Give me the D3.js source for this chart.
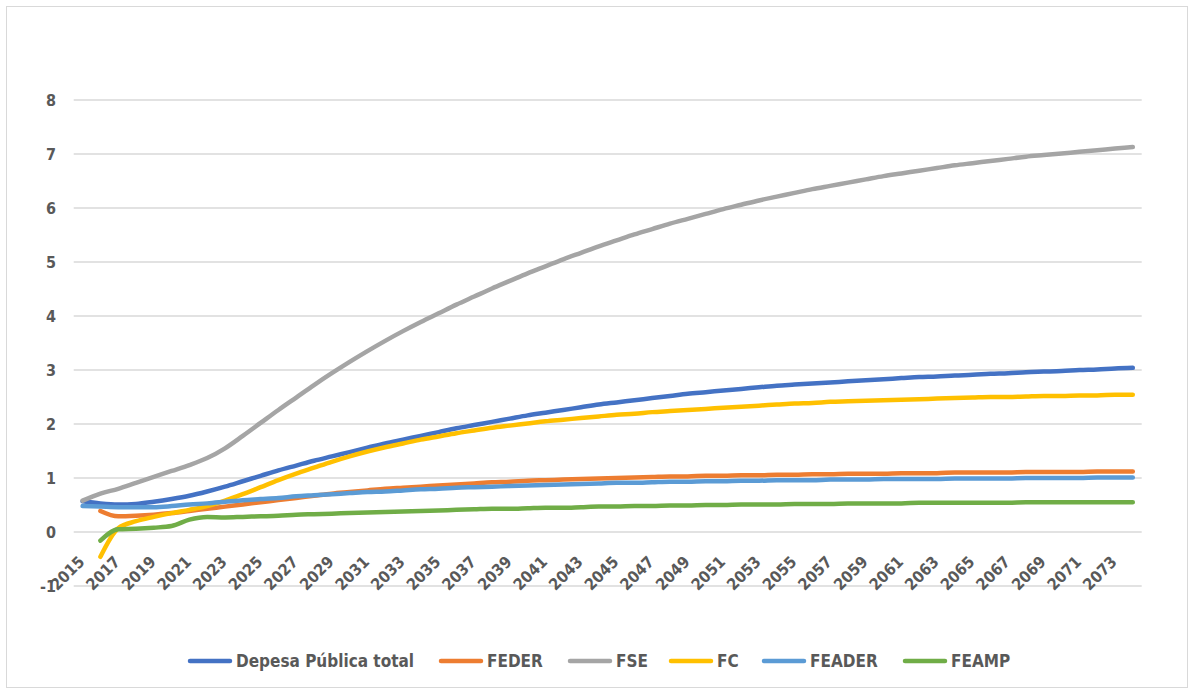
<!DOCTYPE html>
<html>
<head>
<meta charset="utf-8">
<script src="https://cdn.jsdelivr.net/npm/d3@7"></script>
<style>
  body { margin: 0; background: #fff; }
  svg text { font-family: "Liberation Sans Narrow", "DejaVu Sans Condensed", "Liberation Sans", sans-serif; font-weight: bold; fill: #595959; }
</style>
</head>
<body>
<svg id="chart" width="1190" height="691"></svg>
<script>
const years = d3.range(2015, 2075);
const yTicks = [-1, 0, 1, 2, 3, 4, 5, 6, 7, 8];
const xTickYears = years.filter((d, i) => i % 2 === 0);

// values per year, 2015..2074 (null = no value)
const depesaTotal = [0.57, 0.53, 0.51, 0.52, 0.56, 0.61, 0.67, 0.75, 0.84, 0.94,
  1.04, 1.14, 1.23, 1.32, 1.40, 1.48, 1.56, 1.64, 1.71, 1.78,
  1.85, 1.92, 1.98, 2.04, 2.10, 2.16, 2.21, 2.26, 2.31, 2.36,
  2.40, 2.44, 2.48, 2.52, 2.56, 2.59, 2.62, 2.65, 2.68, 2.71,
  2.73, 2.75, 2.77, 2.79, 2.81, 2.83, 2.85, 2.87, 2.88, 2.90,
  2.91, 2.93, 2.94, 2.96, 2.97, 2.98, 3.00, 3.01, 3.03, 3.04];
const feder = [null, 0.39, 0.29, 0.30, 0.32, 0.35, 0.39, 0.43, 0.47, 0.51,
  0.55, 0.59, 0.63, 0.67, 0.71, 0.74, 0.77, 0.80, 0.82, 0.84,
  0.86, 0.88, 0.90, 0.92, 0.93, 0.95, 0.96, 0.97, 0.98, 0.99,
  1.00, 1.01, 1.02, 1.03, 1.03, 1.04, 1.04, 1.05, 1.05, 1.06,
  1.06, 1.07, 1.07, 1.08, 1.08, 1.08, 1.09, 1.09, 1.09, 1.10,
  1.10, 1.10, 1.10, 1.11, 1.11, 1.11, 1.11, 1.12, 1.12, 1.12];
const fse = [0.58, 0.71, 0.80, 0.91, 1.02, 1.13, 1.24, 1.37, 1.55, 1.78,
  2.02, 2.26, 2.49, 2.72, 2.94, 3.15, 3.35, 3.54, 3.72, 3.89,
  4.05, 4.21, 4.36, 4.51, 4.65, 4.79, 4.92, 5.05, 5.17, 5.29,
  5.40, 5.51, 5.61, 5.71, 5.80, 5.89, 5.98, 6.06, 6.14, 6.21,
  6.28, 6.35, 6.41, 6.47, 6.53, 6.59, 6.64, 6.69, 6.74, 6.79,
  6.83, 6.87, 6.91, 6.95, 6.98, 7.01, 7.04, 7.07, 7.10, 7.13];
const fc = [null, -0.46, 0.07, 0.20, 0.28, 0.35, 0.41, 0.48, 0.58, 0.70,
  0.83, 0.96, 1.08, 1.19, 1.30, 1.40, 1.49, 1.57, 1.64, 1.71,
  1.77, 1.83, 1.88, 1.93, 1.97, 2.01, 2.05, 2.08, 2.11, 2.14,
  2.17, 2.19, 2.22, 2.24, 2.26, 2.28, 2.30, 2.32, 2.34, 2.36,
  2.38, 2.39, 2.41, 2.42, 2.43, 2.44, 2.45, 2.46, 2.47, 2.48,
  2.49, 2.50, 2.50, 2.51, 2.52, 2.52, 2.53, 2.53, 2.54, 2.54];
const feader = [0.48, 0.47, 0.46, 0.46, 0.46, 0.48, 0.51, 0.53, 0.56, 0.59,
  0.61, 0.63, 0.66, 0.68, 0.70, 0.72, 0.74, 0.75, 0.77, 0.79,
  0.80, 0.82, 0.83, 0.84, 0.85, 0.86, 0.87, 0.88, 0.89, 0.90,
  0.91, 0.91, 0.92, 0.93, 0.93, 0.94, 0.94, 0.95, 0.95, 0.96,
  0.96, 0.96, 0.97, 0.97, 0.97, 0.98, 0.98, 0.98, 0.98, 0.99,
  0.99, 0.99, 0.99, 1.00, 1.00, 1.00, 1.00, 1.01, 1.01, 1.01];
const feamp = [null, -0.16, 0.05, 0.06, 0.08, 0.11, 0.23, 0.28, 0.27, 0.28,
  0.29, 0.30, 0.32, 0.33, 0.34, 0.35, 0.36, 0.37, 0.38, 0.39,
  0.40, 0.41, 0.42, 0.43, 0.43, 0.44, 0.45, 0.45, 0.46, 0.47,
  0.47, 0.48, 0.48, 0.49, 0.49, 0.50, 0.50, 0.51, 0.51, 0.51,
  0.52, 0.52, 0.52, 0.53, 0.53, 0.53, 0.53, 0.54, 0.54, 0.54,
  0.54, 0.54, 0.54, 0.55, 0.55, 0.55, 0.55, 0.55, 0.55, 0.55];

const seriesNames = ['Depesa Pública total', 'FEDER', 'FSE', 'FC', 'FEADER', 'FEAMP'];
const seriesValues = [depesaTotal, feder, fse, fc, feader, feamp];
const seriesColors = ['#4472C4', '#ED7D31', '#A5A5A5', '#FFC000', '#5B9BD5', '#70AD47'];

const svg = d3.select('#chart');

// outer chart frame
svg.append('rect')
  .attr('x', 6.5).attr('y', 6.5)
  .attr('width', 1181).attr('height', 681)
  .attr('fill', '#fff')
  .attr('stroke', '#d9d9d9');

const x = d3.scaleBand().domain(years).range([73.7, 1141.7]).paddingInner(0).paddingOuter(0);
const y = d3.scaleLinear().domain([-1, 8]).range([586, 100]);
const cx = d => x(d) + x.bandwidth() / 2;

// gridlines
svg.append('g')
  .selectAll('line')
  .data(yTicks)
  .enter()
  .append('line')
  .attr('x1', 73.7).attr('x2', 1141.7)
  .attr('y1', d => y(d)).attr('y2', d => y(d))
  .attr('stroke', '#d9d9d9')
  .attr('stroke-width', 1.3);

// y axis labels
svg.append('g')
  .selectAll('text')
  .data(yTicks)
  .enter()
  .append('text')
  .attr('x', 56)
  .attr('y', d => y(d))
  .attr('dy', '0.35em')
  .attr('text-anchor', 'end')
  .style('font-size', '16px')
  .text(d => d);

// x axis labels (axis crosses at 0)
svg.append('g')
  .selectAll('text')
  .data(xTickYears)
  .enter()
  .append('text')
  .attr('transform', d => `translate(${cx(d) - 5},${y(0) + 23}) rotate(-45)`)
  .attr('text-anchor', 'end')
  .attr('dy', '0.7em')
  .style('font-size', '16px')
  .text(d => d);

const line = d3.line()
  .defined(d => d[1] !== null)
  .x(d => cx(d[0]))
  .y(d => y(d[1]))
  .curve(d3.curveMonotoneX);

svg.append('g')
  .selectAll('path')
  .data(seriesValues)
  .enter()
  .append('path')
  .attr('d', vals => line(years.map((yr, i) => [yr, vals[i]])))
  .attr('fill', 'none')
  .attr('stroke', (d, i) => seriesColors[i])
  .attr('stroke-width', 4.5)
  .attr('stroke-linecap', 'round')
  .attr('stroke-linejoin', 'round');

// legend
const legendY = 661;
const legendTextX = [236, 487, 616, 717, 810, 951];
const legend = svg.append('g')
  .selectAll('g')
  .data(seriesNames)
  .enter()
  .append('g')
  .attr('transform', (d, i) => `translate(${legendTextX[i]},${legendY})`);

legend.append('line')
  .attr('x1', -46).attr('x2', -6)
  .attr('stroke', (d, i) => seriesColors[i])
  .attr('stroke-width', 4.5)
  .attr('stroke-linecap', 'round');

legend.append('text')
  .attr('dy', '0.35em')
  .style('font-size', '17px')
  .text(d => d);
</script>
</body>
</html>
